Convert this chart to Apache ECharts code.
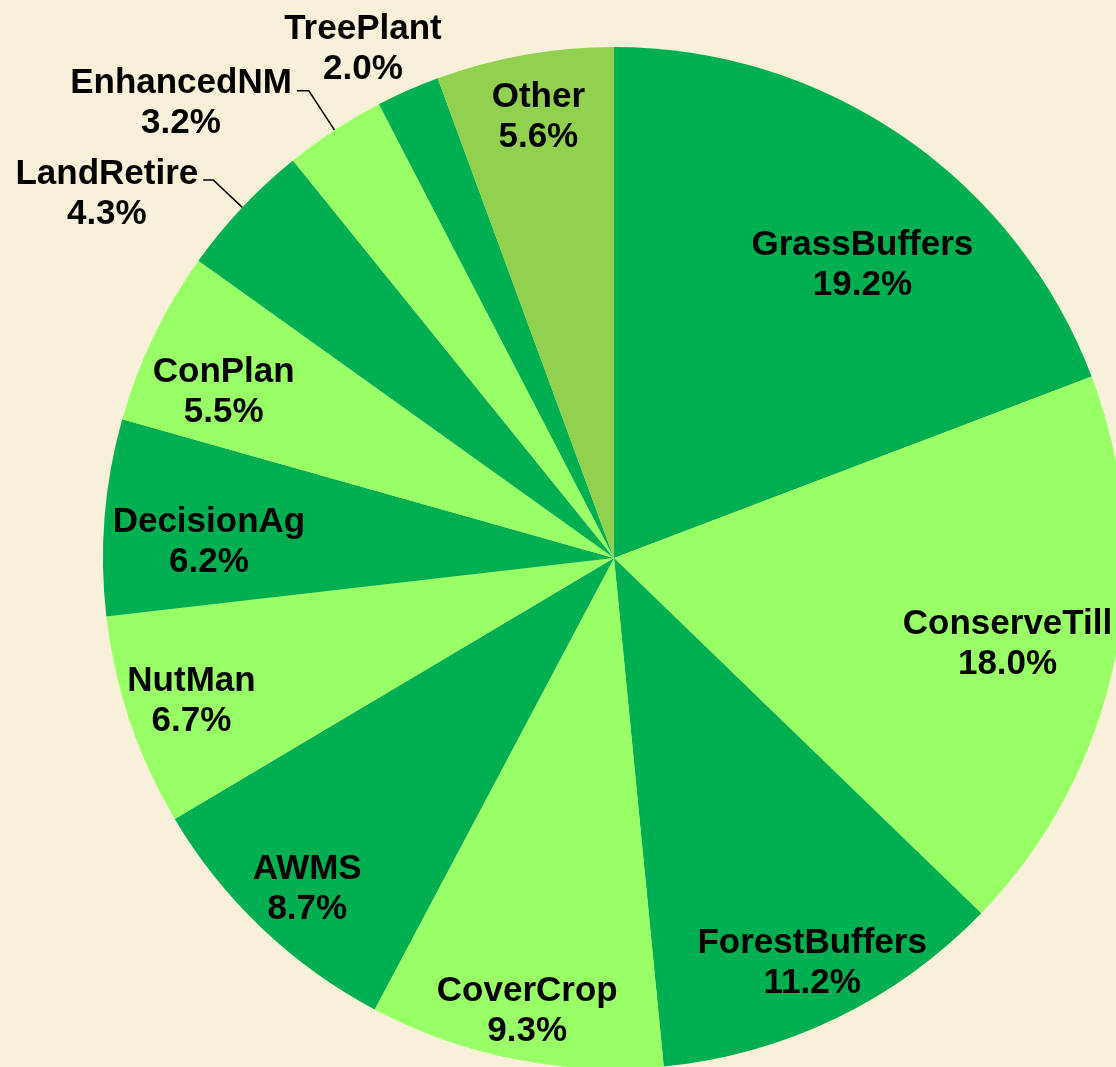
<!DOCTYPE html>
<html>
<head>
<meta charset="utf-8">
<script src="https://cdn.jsdelivr.net/npm/echarts@6/dist/echarts.min.js"></script>
<style>
  html, body { margin: 0; padding: 0; background: #F9F0DA; }
  #chart { width: 1116px; height: 1067px; }
</style>
</head>
<body>
<div id="chart"></div>
<script>
// data
var names = ['GrassBuffers', 'ConserveTill', 'ForestBuffers', 'CoverCrop', 'AWMS', 'NutMan',
  'DecisionAg', 'ConPlan', 'LandRetire', 'EnhancedNM', 'TreePlant', 'Other'];
var values = [19.2, 18.0, 11.2, 9.3, 8.7, 6.7, 6.2, 5.5, 4.3, 3.2, 2.0, 5.6];

// slice colours
var dark = '#00B050';
var light = '#99FF66';
var colors = [dark, light, dark, light, dark, light, dark, light, dark, light, dark, '#92D050'];

// labels drawn outside the pie
var outside = ['LandRetire', 'EnhancedNM', 'TreePlant'];

// small nudges for labels (px)
var nudge = {
  GrassBuffers: [0, 67],
  ConserveTill: [-35, -2],
  ForestBuffers: [8, 11],
  CoverCrop: [-2, 24],
  AWMS: [-5, 15],
  NutMan: [-8, 3],
  DecisionAg: [31, 19],
  ConPlan: [4, 24],
  Other: [1, -10],
  LandRetire: [0, 14],
  EnhancedNM: [0, 13],
  TreePlant: [52, -34]
};

var font = '"Liberation Sans", Arial, sans-serif';
var rich = {
  n: { align: 'center', fontSize: 35, fontWeight: 'bold', lineHeight: 40, color: '#000', fontFamily: font }
};

function fmt(p) {
  return '{n|' + p.name + '}\n{n|' + p.value.toFixed(1) + '%}';
}

function moveLabel(p) {
  var d = nudge[names[p.dataIndex]] || [0, 0];
  return { dx: d[0], dy: d[1] };
}

var mainData = names.map(function (n, i) {
  var item = { name: n, value: values[i], itemStyle: { color: colors[i] } };
  if (outside.indexOf(n) >= 0) {
    item.label = { show: true };
    item.labelLine = { show: n !== 'TreePlant', length: n === 'TreePlant' ? 8 : (n === 'EnhancedNM' ? 47 : 40), length2: n === 'EnhancedNM' ? 12 : 10 };
  }
  return item;
});

var ringData = names.map(function (n, i) {
  return {
    name: n,
    value: values[i],
    label: { show: outside.indexOf(n) < 0 }
  };
});

var chart = echarts.init(document.getElementById('chart'));

var option = {
  backgroundColor: '#F9F0DA',
  animation: false,
  series: [
    {
      type: 'pie',
      center: [614, 558],
      radius: 511,
      startAngle: 90,
      clockwise: true,
      avoidLabelOverlap: false,
      silent: true,
      data: mainData,
      label: {
        show: false,
        position: 'outside',
        formatter: fmt,
        rich: rich,
        distanceToLabelLine: 5
      },
      labelLine: {
        smooth: false,
        lineStyle: { color: '#000', width: 1.5 }
      },
      labelLayout: moveLabel
    },
    {
      // transparent ring that places the inside labels
      type: 'pie',
      center: [614, 558],
      radius: [358, 511],
      startAngle: 90,
      clockwise: true,
      avoidLabelOverlap: false,
      silent: true,
      data: ringData,
      itemStyle: { color: 'rgba(0,0,0,0)' },
      label: {
        position: 'inside',
        formatter: fmt,
        rich: rich
      },
      labelLine: { show: false },
      labelLayout: moveLabel
    }
  ]
};

chart.setOption(option);
</script>
</body>
</html>
